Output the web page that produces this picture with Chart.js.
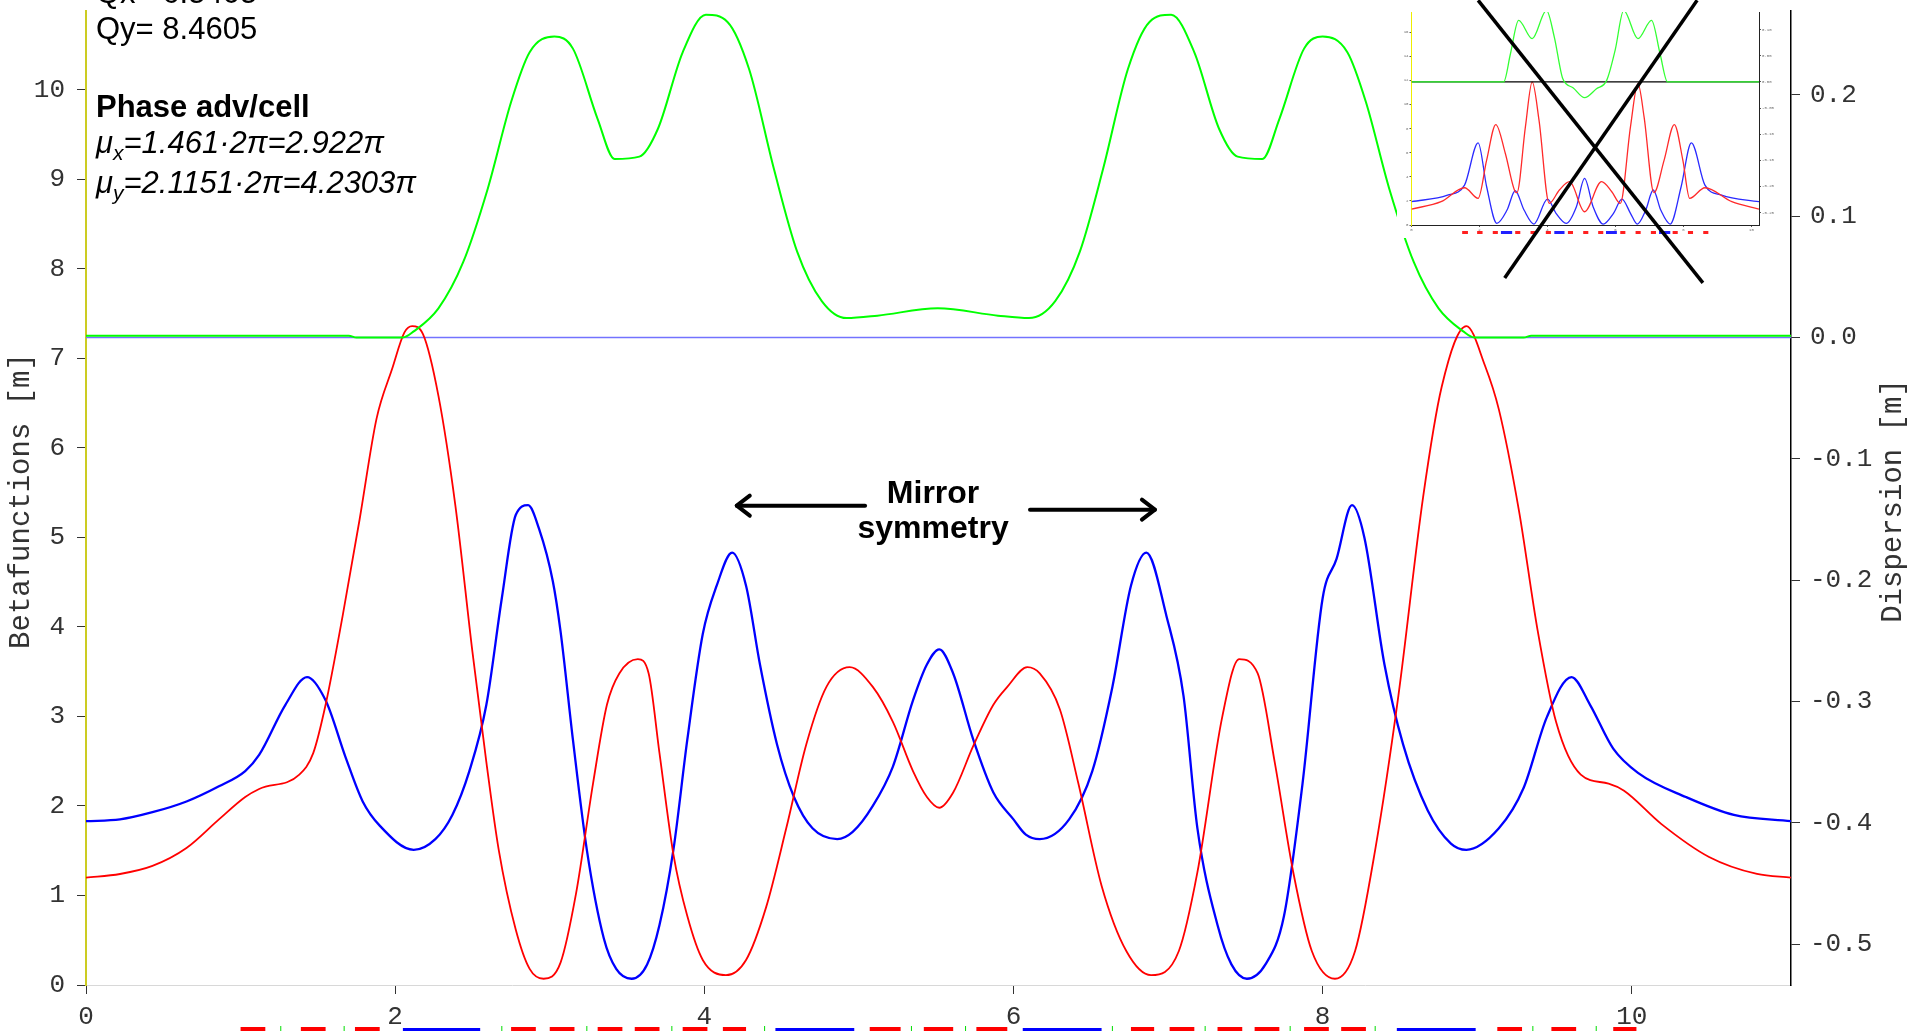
<!DOCTYPE html>
<html>
<head>
<meta charset="utf-8">
<script src="https://cdn.jsdelivr.net/npm/chart.js@4.4.1/dist/chart.umd.min.js"></script>
<style>
  html, body { margin: 0; padding: 0; background: #fff; overflow: hidden; }
  #wrap { position: relative; width: 1911px; height: 1031px; }
  #main { position: absolute; left: 0; top: 0; }
  #inset { position: absolute; left: 1397px; top: 0; }
</style>
</head>
<body>
<div id="wrap">
  <canvas id="main" width="1911" height="1031"></canvas>
  <canvas id="inset" width="383" height="290"></canvas>
</div>
<script>
// ---- main lattice: beta functions (left axis) and dispersion (right axis)
const betxS = [0, 0.22, 0.43, 0.65, 0.86, 1.03, 1.12, 1.38, 1.47, 1.55, 1.66, 1.77, 1.88, 1.98, 2.06, 2.11, 2.18, 2.28, 2.39, 2.50, 2.59, 2.67, 2.78, 2.87, 2.96, 3.07, 3.17, 3.28, 3.37, 3.45, 3.57, 3.64, 3.71, 3.80, 3.89, 3.99, 4.14, 4.27, 4.40, 4.53, 4.66, 4.79, 4.94, 5.09, 5.22, 5.35, 5.44, 5.52, 5.61, 5.74, 5.87, 5.96, 6.09, 6.17, 6.30, 6.42, 6.57, 6.73, 6.89, 7.07, 7.19, 7.35, 7.46, 7.58, 7.69, 7.81, 7.93, 8.08, 8.21, 8.34, 8.49, 8.65, 8.77, 8.93, 9.05, 9.14, 9.27, 9.39, 9.51, 9.67, 9.85, 9.95, 10.19, 10.50, 10.81, 11.03];
const betx  = [1.20, 1.24, 1.33, 1.53, 1.85, 2.10, 2.19, 2.35, 2.59, 3.13, 4.12, 5.20, 6.33, 6.88, 7.29, 7.36, 7.27, 6.58, 5.35, 3.72, 2.49, 1.51, 0.62, 0.18, 0.07, 0.25, 1.02, 2.25, 3.13, 3.48, 3.64, 3.48, 2.59, 1.46, 0.77, 0.28, 0.11, 0.28, 0.87, 1.75, 2.69, 3.33, 3.55, 3.33, 2.94, 2.39, 2.10, 1.98, 2.15, 2.67, 3.13, 3.33, 3.55, 3.48, 3.08, 2.25, 1.11, 0.38, 0.11, 0.38, 1.26, 2.99, 3.64, 3.48, 2.49, 1.26, 0.38, 0.07, 0.38, 1.51, 3.23, 5.45, 6.68, 7.36, 6.92, 6.43, 5.30, 3.97, 2.94, 2.35, 2.25, 2.17, 1.80, 1.43, 1.24, 1.20];

const betyS = [0, 0.22, 0.43, 0.65, 0.86, 1.03, 1.12, 1.29, 1.43, 1.55, 1.68, 1.79, 1.90, 2.12, 2.26, 2.37, 2.48, 2.59, 2.69, 2.78, 2.86, 2.93, 3.02, 3.07, 3.15, 3.24, 3.35, 3.43, 3.53, 3.63, 3.71, 3.80, 3.89, 3.99, 4.08, 4.18, 4.27, 4.36, 4.47, 4.58, 4.70, 4.86, 4.96, 5.09, 5.22, 5.35, 5.44, 5.52, 5.61, 5.74, 5.87, 6.00, 6.08, 6.17, 6.36, 6.51, 6.64, 6.76, 6.86, 6.99, 7.10, 7.19, 7.32, 7.41, 7.51, 7.63, 7.75, 7.87, 8.00, 8.09, 8.19, 8.27, 8.40, 8.52, 8.68, 8.83, 8.93, 9.14, 9.30, 9.45, 9.61, 9.73, 9.88, 10.04, 10.35, 10.66, 11.03];
const bety  = [1.83, 1.85, 1.93, 2.05, 2.22, 2.39, 2.57, 3.13, 3.44, 3.18, 2.54, 2.05, 1.78, 1.51, 1.63, 1.90, 2.39, 3.13, 4.32, 5.25, 5.36, 5.10, 4.51, 3.95, 2.74, 1.51, 0.52, 0.18, 0.07, 0.23, 0.67, 1.51, 2.74, 3.92, 4.46, 4.83, 4.46, 3.58, 2.69, 2.10, 1.75, 1.63, 1.71, 2.00, 2.44, 3.18, 3.58, 3.75, 3.48, 2.74, 2.15, 1.85, 1.68, 1.63, 1.85, 2.39, 3.33, 4.46, 4.83, 4.12, 3.23, 1.75, 0.67, 0.23, 0.07, 0.23, 0.77, 2.25, 4.32, 4.76, 5.36, 5.00, 3.58, 2.69, 1.95, 1.58, 1.51, 1.75, 2.20, 2.99, 3.44, 3.13, 2.64, 2.37, 2.10, 1.90, 1.83];

const dispS = [0, 1.70, 1.75, 2.05, 2.12, 2.28, 2.44, 2.60, 2.75, 2.87, 3.03, 3.15, 3.31, 3.42, 3.58, 3.70, 3.86, 4.01, 4.15, 4.29, 4.45, 4.60, 4.76, 4.92, 5.12, 5.51, 5.90, 6.10, 6.27, 6.43, 6.58, 6.74, 6.88, 7.02, 7.17, 7.33, 7.45, 7.61, 7.72, 7.88, 8.00, 8.16, 8.28, 8.43, 8.59, 8.75, 8.91, 8.98, 9.30, 9.35, 11.03];
const disp  = [0.0015, 0.0015, 0.0, 0.0, 0.005, 0.024, 0.062, 0.123, 0.194, 0.235, 0.248, 0.238, 0.180, 0.147, 0.149, 0.172, 0.235, 0.266, 0.260, 0.221, 0.139, 0.071, 0.030, 0.016, 0.018, 0.024, 0.018, 0.016, 0.030, 0.071, 0.139, 0.221, 0.260, 0.266, 0.235, 0.172, 0.149, 0.147, 0.180, 0.238, 0.248, 0.235, 0.194, 0.123, 0.062, 0.024, 0.005, 0.0, 0.0, 0.0015, 0.0015];

const zeroS = [0, 11.03];
const zeroD = [0, 0];

const xTicks = [0, 2, 4, 6, 8, 10];
const betaTicks = [0, 1, 2, 3, 4, 5, 6, 7, 8, 9, 10];
const dispTicks = [-0.5, -0.4, -0.3, -0.2, -0.1, 0.0, 0.1, 0.2];

// lattice elements drawn under the axis [start, end]
const quads = [[1.00, 1.16], [1.39, 1.55], [1.74, 1.90], [2.75, 2.91], [3.00, 3.16], [3.31, 3.47], [3.55, 3.71], [3.86, 4.02], [4.12, 4.27], [5.07, 5.27], [5.42, 5.61], [5.76, 5.96], [6.76, 6.91], [7.01, 7.17], [7.32, 7.48], [7.56, 7.72], [7.88, 8.04], [8.12, 8.28], [9.13, 9.29], [9.48, 9.64], [9.88, 10.03]];
const bends = [[2.05, 2.55], [4.46, 4.97], [6.06, 6.57], [8.48, 8.99]];
const sexts = [1.26, 1.67, 2.69, 3.24, 3.79, 4.39, 5.34, 5.69, 6.64, 7.24, 7.79, 8.34, 9.36, 9.77];

// ---- inset (old lattice, crossed out)
const inBetxS = [0, 0.87, 1.56, 1.96, 2.21, 2.48, 2.76, 3.05, 3.10, 3.35, 3.55, 3.75, 4.05, 4.35, 4.65, 5.09, 5.59, 5.89, 6.14, 6.44, 6.66, 6.84, 7.13, 7.43, 7.73, 7.98, 8.18, 8.63, 9.42, 10.22];
const inBetx  = [1.32, 1.93, 3.09, 2.21, 5.38, 8.33, 5.93, 2.76, 2.68, 8.14, 11.86, 8.69, 1.79, 2.90, 3.59, 1.10, 3.59, 2.76, 1.79, 8.14, 11.72, 8.97, 2.68, 5.38, 8.33, 5.38, 2.21, 3.09, 1.93, 1.32];
const inBetyS = [0, 1.06, 1.56, 1.96, 2.21, 2.51, 2.81, 3.05, 3.31, 3.60, 4.00, 4.25, 4.55, 4.85, 5.09, 5.34, 5.64, 5.94, 6.19, 6.44, 6.64, 6.89, 7.11, 7.33, 7.61, 7.93, 8.23, 8.63, 9.12, 10.22];
const inBety  = [1.93, 2.48, 3.31, 6.81, 3.17, 0.14, 1.24, 2.84, 1.24, 0.08, 2.15, 0.97, 0.14, 1.52, 3.86, 1.52, 0.08, 0.97, 2.15, 0.97, 0.08, 1.24, 2.90, 1.24, 0.08, 3.17, 6.81, 3.31, 2.48, 1.93];
const inDispS = [0, 2.71, 2.91, 3.15, 3.55, 3.97, 4.20, 4.45, 4.75, 5.09, 5.44, 5.74, 5.99, 6.24, 6.66, 7.06, 7.31, 7.53, 10.22];
const inDisp  = [0, 0, 0.054, 0.118, 0.083, 0.137, 0.086, 0.006, -0.011, -0.030, -0.013, 0.003, 0.061, 0.137, 0.083, 0.118, 0.054, 0, 0];
const inQuads = [[1.49, 1.66], [1.93, 2.09], [2.39, 2.54], [3.05, 3.20], [3.50, 3.65], [3.95, 4.10], [4.60, 4.75], [5.05, 5.20], [5.49, 5.64], [6.14, 6.29], [6.59, 6.74], [7.04, 7.19], [7.68, 7.83], [8.13, 8.28], [8.58, 8.73]];
const inBends = [[2.63, 2.96], [4.20, 4.50], [5.72, 6.04], [7.28, 7.61]];
// the two strokes of the cross: [x1, y1, x2, y2] in inset units
const cross = [[1.96, 18.63, 8.57, -4.80], [8.40, 18.63, 2.74, -4.39]];

const pts = (xs, ys) => xs.map((x, i) => ({x: x, y: ys[i]}));
const monoFont = {family: '"Liberation Mono", "DejaVu Sans Mono", monospace', size: 26};
const txtColor = '#333333';

// drop the automatic label padding so the plot area matches the original
const noPadY = s => { s.paddingTop = 0; s.paddingBottom = 0; };
const noPadX = s => { s.paddingLeft = 0; s.paddingRight = 0; };

const mainDecor = {
    id: 'mainDecor',
    afterDraw(chart) {
        const ctx = chart.ctx;
        const xs = chart.scales.x, yb = chart.scales.y;
        const area = chart.chartArea;
        ctx.save();

        // lattice row under the axis
        const rowY = area.bottom + 41;
        ctx.strokeStyle = '#00dd00';
        ctx.lineWidth = 1;
        sexts.forEach(s => {
            const px = xs.getPixelForValue(s);
            ctx.beginPath(); ctx.moveTo(px, rowY); ctx.lineTo(px, rowY + 8); ctx.stroke();
        });
        ctx.fillStyle = '#ff0000';
        quads.forEach(q => {
            const a = xs.getPixelForValue(q[0]), b = xs.getPixelForValue(q[1]);
            ctx.fillRect(a, rowY + 1, b - a, 8);
        });
        ctx.fillStyle = '#0000ff';
        bends.forEach(q => {
            const a = xs.getPixelForValue(q[0]), b = xs.getPixelForValue(q[1]);
            ctx.fillRect(a, rowY + 2, b - a, 8);
        });

        // axis titles
        ctx.fillStyle = txtColor;
        ctx.font = '29px "Liberation Mono", monospace';
        ctx.textAlign = 'center';
        ctx.textBaseline = 'middle';
        const midY = (area.top + area.bottom) / 2 + 3;
        ctx.save(); ctx.translate(21, midY); ctx.rotate(-Math.PI / 2);
        ctx.fillText('Betafunctions [m]', 0, 0); ctx.restore();
        ctx.save(); ctx.translate(1893, midY); ctx.rotate(-Math.PI / 2);
        ctx.fillText('Dispersion [m]', 0, 0); ctx.restore();

        // tune / phase advance text
        ctx.fillStyle = '#000';
        ctx.textAlign = 'left';
        ctx.textBaseline = 'alphabetic';
        const tx = area.left + 10;
        ctx.font = '31px "Liberation Sans", Arial, sans-serif';
        ctx.fillText('Qx= 6.5405', tx, 3);
        ctx.fillText('Qy= 8.4605', tx, 39);
        ctx.font = 'bold 31px "Liberation Sans", Arial, sans-serif';
        ctx.fillText('Phase adv/cell', tx, 117);
        const muLine = (sub, rest, y) => {
            ctx.font = 'italic 31px "Liberation Sans", Arial, sans-serif';
            ctx.fillText('\u03bc', tx, y);
            let w = ctx.measureText('\u03bc').width;
            ctx.font = 'italic 21px "Liberation Sans", Arial, sans-serif';
            ctx.fillText(sub, tx + w, y + 7);
            w += ctx.measureText(sub).width;
            ctx.font = 'italic 31px "Liberation Sans", Arial, sans-serif';
            ctx.fillText(rest, tx + w, y);
        };
        muLine('x', '=1.461\u00b72\u03c0=2.922\u03c0', 153);
        muLine('y', '=2.1151\u00b72\u03c0=4.2303\u03c0', 193);

        // mirror symmetry label + arrows
        ctx.font = 'bold 32px "Liberation Sans", Arial, sans-serif';
        ctx.textAlign = 'center';
        const cx = xs.getPixelForValue(5.48);
        ctx.fillText('Mirror', cx, 503);
        ctx.fillText('symmetry', cx, 538);
        ctx.strokeStyle = '#000';
        ctx.lineWidth = 4;
        ctx.lineCap = 'round';
        ctx.lineJoin = 'round';
        [[5.04, 4.21, 5.354], [6.107, 6.915, 5.31]].forEach(a => {
            const x1 = xs.getPixelForValue(a[0]), x2 = xs.getPixelForValue(a[1]);
            const y = yb.getPixelForValue(a[2]);
            const dir = Math.sign(x2 - x1);
            ctx.beginPath(); ctx.moveTo(x1, y); ctx.lineTo(x2, y); ctx.stroke();
            ctx.beginPath();
            ctx.moveTo(x2 - dir * 13, y - 10); ctx.lineTo(x2, y); ctx.lineTo(x2 - dir * 13, y + 10);
            ctx.stroke();
        });
        ctx.restore();
    }
};

new Chart(document.getElementById('main'), {
    type: 'line',
    data: {
        datasets: [
            {label: 'Dispersion', data: pts(dispS, disp), yAxisID: 'yD', borderColor: '#00ff00', borderWidth: 2, pointRadius: 0, cubicInterpolationMode: 'monotone', order: 1},
            {label: 'D = 0', data: pts(zeroS, zeroD), yAxisID: 'yD', borderColor: '#7373ff', borderWidth: 1.5, pointRadius: 0, order: 4},
            {label: 'beta x', data: pts(betxS, betx), yAxisID: 'y', borderColor: '#ff0000', borderWidth: 1.8, pointRadius: 0, cubicInterpolationMode: 'monotone', order: 2},
            {label: 'beta y', data: pts(betyS, bety), yAxisID: 'y', borderColor: '#0000ff', borderWidth: 2.3, pointRadius: 0, cubicInterpolationMode: 'monotone', order: 3}
        ]
    },
    options: {
        responsive: false,
        animation: false,
        devicePixelRatio: 1,
        layout: {padding: {top: 11, left: 0, right: 0, bottom: 0}},
        plugins: {legend: {display: false}, tooltip: {enabled: false}},
        scales: {
            x: {
                type: 'linear', min: 0, max: 11.03,
                afterFit: s => { s.height = 46; noPadX(s); },
                afterBuildTicks: s => { s.ticks = xTicks.map(v => ({value: v})); },
                grid: {drawOnChartArea: false, tickLength: 9, color: '#333'},
                border: {color: '#d8d8d8', width: 1},
                ticks: {font: monoFont, color: txtColor, padding: 8, maxRotation: 0}
            },
            y: {
                position: 'left', min: 0, max: 10.88,
                afterFit: s => { s.width = 86; noPadY(s); },
                afterBuildTicks: s => { s.ticks = betaTicks.map(v => ({value: v})); },
                grid: {drawOnChartArea: false, tickLength: 9, color: '#333'},
                border: {color: '#cccc22', width: 2},
                ticks: {font: monoFont, color: txtColor, padding: 12}
            },
            yD: {
                position: 'right', min: -0.5335, max: 0.269,
                afterFit: s => { s.width = 120; noPadY(s); },
                afterBuildTicks: s => { s.ticks = dispTicks.map(v => ({value: v})); },
                grid: {drawOnChartArea: false, tickLength: 9, color: '#333'},
                border: {color: '#000', width: 1.5},
                ticks: {font: monoFont, color: txtColor, padding: 10, callback: v => v.toFixed(1)}
            }
        }
    },
    plugins: [mainDecor]
});

// ---- inset chart
const insetDecor = {
    id: 'insetDecor',
    beforeDraw(chart) {
        const ctx = chart.ctx;
        ctx.save();
        ctx.fillStyle = '#fff';
        ctx.fillRect(0, 0, chart.width, 238);
        ctx.restore();
    },
    afterDraw(chart) {
        const ctx = chart.ctx;
        const xs = chart.scales.x, ys = chart.scales.y;
        const area = chart.chartArea;
        ctx.save();
        const rowY = area.bottom + 6;
        ctx.fillStyle = '#ff2020';
        inQuads.forEach(q => {
            const a = xs.getPixelForValue(q[0]), b = xs.getPixelForValue(q[1]);
            ctx.fillRect(a, rowY, b - a, 3);
        });
        ctx.fillStyle = '#2020ff';
        inBends.forEach(q => {
            const a = xs.getPixelForValue(q[0]), b = xs.getPixelForValue(q[1]);
            ctx.fillRect(a, rowY, b - a, 3);
        });
        ctx.strokeStyle = '#000';
        ctx.lineWidth = 3.5;
        cross.forEach(c => {
            ctx.beginPath();
            ctx.moveTo(xs.getPixelForValue(c[0]), ys.getPixelForValue(c[1]));
            ctx.lineTo(xs.getPixelForValue(c[2]), ys.getPixelForValue(c[3]));
            ctx.stroke();
        });
        ctx.restore();
    }
};

const tinyFont = {family: '"Liberation Mono", monospace', size: 4};
new Chart(document.getElementById('inset'), {
    type: 'line',
    data: {
        datasets: [
            {data: pts(inDispS, inDisp), yAxisID: 'yD', borderColor: '#33ff33', borderWidth: 1.3, pointRadius: 0, cubicInterpolationMode: 'monotone', order: 1},
            {data: pts(zeroS.map(v => v * 10.22 / 11.03), zeroD), yAxisID: 'yD', borderColor: '#000', borderWidth: 1.2, pointRadius: 0, order: 2},
            {data: pts(inBetxS, inBetx), yAxisID: 'y', borderColor: '#ff2a2a', borderWidth: 1.3, pointRadius: 0, cubicInterpolationMode: 'monotone', order: 3},
            {data: pts(inBetyS, inBety), yAxisID: 'y', borderColor: '#2a2aff', borderWidth: 1.3, pointRadius: 0, cubicInterpolationMode: 'monotone', order: 4}
        ]
    },
    options: {
        responsive: false,
        animation: false,
        devicePixelRatio: 1,
        layout: {padding: {top: 12, left: 0, right: 0, bottom: 52}},
        plugins: {legend: {display: false}, tooltip: {enabled: false}},
        scales: {
            x: {
                type: 'linear', min: 0, max: 10.22,
                afterFit: s => { s.height = 13; noPadX(s); },
                afterBuildTicks: s => { s.ticks = xTicks.map(v => ({value: v})); },
                grid: {drawOnChartArea: false, tickLength: 2, color: '#555'},
                border: {color: '#222', width: 1},
                ticks: {font: tinyFont, color: '#666', padding: 1}
            },
            y: {
                position: 'left', min: 0, max: 17.66,
                afterFit: s => { s.width = 14.5; noPadY(s); },
                afterBuildTicks: s => { s.ticks = [0, 2, 4, 6, 8, 10, 12, 14, 16].map(v => ({value: v})); },
                grid: {drawOnChartArea: false, tickLength: 2, color: '#555'},
                border: {color: '#eeee00', width: 1},
                ticks: {font: tinyFont, color: '#666', padding: 1}
            },
            yD: {
                position: 'right', min: -0.274, max: 0.134,
                afterFit: s => { s.width = 21; noPadY(s); },
                afterBuildTicks: s => { s.ticks = [-0.25, -0.2, -0.15, -0.1, -0.05, 0, 0.05, 0.1].map(v => ({value: v})); },
                grid: {drawOnChartArea: false, tickLength: 2, color: '#555'},
                border: {color: '#222', width: 1},
                ticks: {font: tinyFont, color: '#666', padding: 1, callback: v => v.toFixed(2)}
            }
        }
    },
    plugins: [insetDecor]
});
</script>
</body>
</html>
